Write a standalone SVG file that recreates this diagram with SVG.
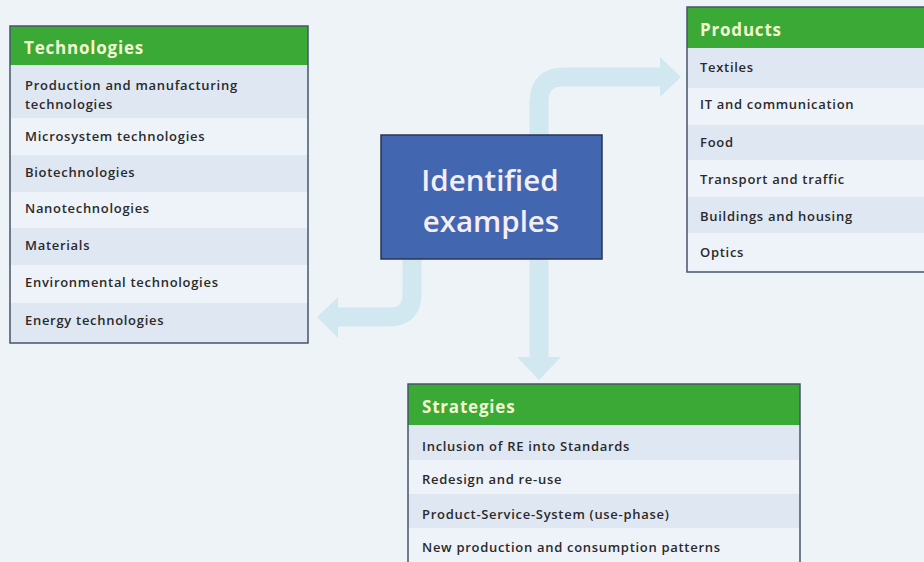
<svg xmlns="http://www.w3.org/2000/svg" width="924" height="562" viewBox="0 0 924 562">
<style>
.hdr{fill:#3aa935}
.ra{fill:#dfe7f3}
.rb{fill:#eef3f9}
.frame{fill:none;stroke:#46566a;stroke-width:1.5}
.ht{font-family:"Open Sans","Liberation Sans",sans-serif;font-weight:700;font-size:17px;letter-spacing:0.8px;fill:#f3f7d2}
.it{font-family:"Open Sans","Liberation Sans",sans-serif;font-weight:600;font-size:13px;letter-spacing:0.7px;fill:#2a2a2a}
.ct{font-family:"Open Sans","Liberation Sans",sans-serif;font-weight:600;font-size:29.5px;fill:#f4eef6}
.conn{fill:none;stroke:#d2e8f0;stroke-width:19}
.head{fill:#d2e8f0}
</style>
<rect width="924" height="562" fill="#eef3f8"/>
<g id="connectors">
<path class="conn" d="M539 135 V102 Q539 77 564 77 H662"/>
<polygon class="head" points="660,57 681,77 660,97"/>
<path class="conn" d="M539 259 V358"/>
<polygon class="head" points="517,357 539,380 561,357"/>
<path class="conn" d="M412 259 V294 Q412 317 389 317 H336"/>
<polygon class="head" points="338,297 317,317 338,338"/>
</g>
<g id="center">
<rect x="381" y="135" width="221" height="124" fill="#4366b0" stroke="#2a3550" stroke-width="1.5"/>
<text class="ct" x="490" y="191" text-anchor="middle">Identified</text>
<text class="ct" x="491" y="232" text-anchor="middle">examples</text>
</g>
<g id="technologies">
<rect class="hdr" x="10" y="26" width="298" height="39"/>
<rect class="ra" x="10" y="65" width="298" height="53"/>
<rect class="rb" x="10" y="118" width="298" height="37"/>
<rect class="ra" x="10" y="155" width="298" height="37"/>
<rect class="rb" x="10" y="192" width="298" height="36"/>
<rect class="ra" x="10" y="228" width="298" height="37"/>
<rect class="rb" x="10" y="265" width="298" height="38"/>
<rect class="ra" x="10" y="303" width="298" height="40"/>
<rect class="frame" x="10" y="26" width="298" height="317"/>
<text class="ht" x="24" y="54">Technologies</text>
<text class="it" x="25" y="90">Production and manufacturing</text>
<text class="it" x="25" y="109">technologies</text>
<text class="it" x="25" y="141">Microsystem technologies</text>
<text class="it" x="25" y="177">Biotechnologies</text>
<text class="it" x="25" y="213">Nanotechnologies</text>
<text class="it" x="25" y="250">Materials</text>
<text class="it" x="25" y="287">Environmental technologies</text>
<text class="it" x="25" y="325">Energy technologies</text>
</g>
<g id="products">
<rect class="hdr" x="687" y="7" width="245" height="41"/>
<rect class="ra" x="687" y="48" width="245" height="40"/>
<rect class="rb" x="687" y="88" width="245" height="37"/>
<rect class="ra" x="687" y="125" width="245" height="35"/>
<rect class="rb" x="687" y="160" width="245" height="37"/>
<rect class="ra" x="687" y="197" width="245" height="36"/>
<rect class="rb" x="687" y="233" width="245" height="39"/>
<rect class="frame" x="687" y="7" width="245" height="265"/>
<text class="ht" x="700" y="36">Products</text>
<text class="it" x="700" y="72">Textiles</text>
<text class="it" x="700" y="109">IT and communication</text>
<text class="it" x="700" y="147">Food</text>
<text class="it" x="700" y="184">Transport and traffic</text>
<text class="it" x="700" y="221">Buildings and housing</text>
<text class="it" x="700" y="257">Optics</text>
</g>
<g id="strategies">
<rect class="hdr" x="408" y="384" width="392" height="41"/>
<rect class="ra" x="408" y="425" width="392" height="35"/>
<rect class="rb" x="408" y="460" width="392" height="34"/>
<rect class="ra" x="408" y="494" width="392" height="34"/>
<rect class="rb" x="408" y="528" width="392" height="40"/>
<rect class="frame" x="408" y="384" width="392" height="184"/>
<text class="ht" x="422" y="413">Strategies</text>
<text class="it" x="422" y="451">Inclusion of RE into Standards</text>
<text class="it" x="422" y="484">Redesign and re-use</text>
<text class="it" x="422" y="519">Product-Service-System (use-phase)</text>
<text class="it" x="422" y="552">New production and consumption patterns</text>
</g>
</svg>
